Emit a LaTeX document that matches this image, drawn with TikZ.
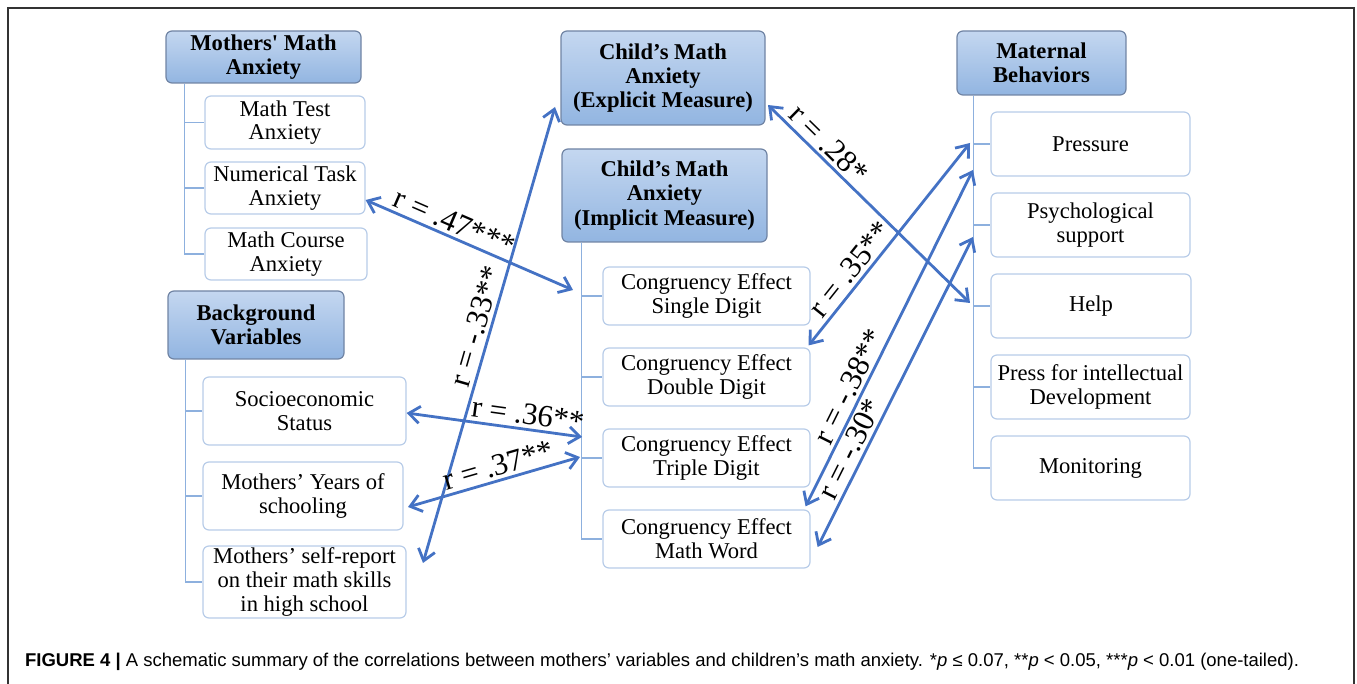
\documentclass[tikz,border=0pt]{standalone}
\usepackage{fontspec}
\setmainfont{Liberation Serif}
\newfontfamily\capfont{Liberation Sans}
\usetikzlibrary{arrows.meta, calc}

\definecolor{corrblue}{RGB}{68,114,196}
\definecolor{treeblue}{RGB}{141,176,222}
\definecolor{boxedge}{RGB}{184,204,232}
\definecolor{hdrtop}{RGB}{196,215,240}
\definecolor{hdrbot}{RGB}{146,181,225}
\definecolor{hdredge}{RGB}{112,132,164}

\tikzset{
	hdr/.style={draw=hdredge, line width=0.6pt, rounded corners=3pt, top color=hdrtop, bottom color=hdrbot,
		align=center, font=\fontsize{11.3}{12.2}\selectfont\bfseries, inner sep=1pt},
	sub/.style={draw=boxedge, line width=0.6pt, rounded corners=3pt, fill=white,
		align=center, font=\fontsize{11.3}{11.8}\selectfont, inner sep=1pt},
	tree/.style={draw=treeblue, line width=0.8pt},
	corr/.style={draw=corrblue, line width=1.4pt,
		{Straight Barb[length=5.5pt,width=8.5pt]}-{Straight Barb[length=5.5pt,width=8.5pt]}},
	lbl/.style={sloped, above, font=\fontsize{15.5}{15.5}\selectfont, inner sep=1.5pt}
}

\begin{document}
\begin{tikzpicture}[x=0.5pt,y=-0.5pt]
	\useasboundingbox (0,0) rectangle (1357,684);
	\draw[line width=1pt, black!80] (8,684) -- (8,8) -- (1354,8) -- (1354,684);

	% mothers' side
	\begin{scope}
		\node[hdr, minimum width=97.5pt, minimum height=26pt] (mma) at (263.5,57) {Mothers\textquotesingle{} Math\\Anxiety};
		\node[sub, minimum width=80pt, minimum height=26.5pt] (mta) at (285,122.5) {Math Test\\Anxiety};
		\node[sub, minimum width=80pt, minimum height=26pt] (nta) at (285,188) {Numerical Task\\Anxiety};
		\node[sub, minimum width=81pt, minimum height=26pt] (mca) at (286,254) {Math Course\\Anxiety};
		\foreach \c in {mta,nta,mca}
			\draw[tree] ($(mma.south west)+(19,0)$) |- (\c.west);

		\node[hdr, minimum width=88pt, minimum height=34pt] (bgv) at (256,325) {Background\\Variables};
		\node[sub, minimum width=101.5pt, minimum height=34pt] (ses) at (304.5,411) {Socioeconomic\\Status};
		\node[sub, minimum width=100pt, minimum height=34pt] (mys) at (303,496) {Mothers’ Years of\\schooling};
		\node[sub, minimum width=101.5pt, minimum height=34pt] (msr) at (304.5,582) {Mothers’ self-report\\on their math skills\\in high school};
		\foreach \c in {ses,mys,msr}
			\draw[tree] ($(bgv.south west)+(18,0)$) |- (\c.west);
	\end{scope}

	% child's side
	\begin{scope}
		\node[hdr, minimum width=102pt, minimum height=47pt] (cex) at (663,78) {Child’s Math\\Anxiety\\(Explicit Measure)};
		\node[hdr, minimum width=102.5pt, minimum height=46.5pt] (cim) at (664.5,195.5) {Child’s Math\\Anxiety\\(Implicit Measure)};
		\node[sub, minimum width=103.5pt, minimum height=29pt] (ced1) at (706.5,296) {Congruency Effect\\Single Digit};
		\node[sub, minimum width=103.5pt, minimum height=29pt] (ced2) at (706.5,377) {Congruency Effect\\Double Digit};
		\node[sub, minimum width=103.5pt, minimum height=29pt] (ced3) at (706.5,458) {Congruency Effect\\Triple Digit};
		\node[sub, minimum width=103.5pt, minimum height=29pt] (ced4) at (706.5,539) {Congruency Effect\\Math Word};
		\foreach \c in {ced1,ced2,ced3,ced4}
			\draw[tree] ($(cim.south west)+(20,0)$) |- (\c.west);
	\end{scope}

	% maternal behaviors
	\begin{scope}
		\node[hdr, minimum width=84.5pt, minimum height=32pt] (mbh) at (1041.5,63) {Maternal\\Behaviors};
		\node[sub, minimum width=99.5pt, minimum height=32pt] (prs) at (1090.5,144) {Pressure};
		\node[sub, minimum width=99.5pt, minimum height=32pt] (psy) at (1090.5,225) {Psychological\\support};
		\node[sub, minimum width=100pt, minimum height=32pt] (hlp) at (1091,306) {Help};
		\node[sub, minimum width=99.5pt, minimum height=32pt] (pid) at (1090.5,387) {Press for intellectual\\Development};
		\node[sub, minimum width=99.5pt, minimum height=32pt] (mon) at (1090.5,468) {Monitoring};
		\foreach \c in {prs,psy,hlp,pid,mon}
			\draw[tree] ($(mbh.south west)+(17,0)$) |- (\c.west);
	\end{scope}

	% free ends of the correlations
	\coordinate (t47) at (573,290);
	\coordinate (b33) at (423,563);
	\coordinate (t33) at (555,107);
	\coordinate (t36) at (582,437);
	\coordinate (b37) at (408,507);
	\coordinate (t37) at (580,457);
	\coordinate (a28) at (768,105);
	\coordinate (t28) at (970,303);
	\coordinate (t35) at (970,143);
	\coordinate (t38) at (973,170);
	\coordinate (t30) at (973,237);

	\draw[corr] ([yshift=-6pt]nta.east) -- node[lbl, pos=.4] {r = .47***} (t47);
	\draw[corr] (b33) -- node[lbl, pos=.51] {r = -.33**} (t33);
	\draw[corr] ([yshift=-1pt]ses.east) -- node[lbl, pos=.68] {r = .36**} (t36);
	\draw[corr] (b37) -- node[lbl, pos=.55] {r = .37**} (t37);
	\draw[corr] (a28) -- node[lbl, pos=.25] {r = .28*} (t28);
	\draw[corr] ([xshift=-1pt,yshift=1pt]ced2.north east) -- node[lbl, pos=.33] {r = .35**} (t35);
	\draw[corr] ([xshift=-2.5pt,yshift=1.5pt]ced4.north east) -- node[lbl, pos=.337] {r = -.38**} (t38);
	\draw[corr] ([xshift=3.5pt,yshift=-4pt]ced4.east) -- node[lbl, pos=.295] {r = -.30*} (t30);

	\node[anchor=base west, font=\capfont\fontsize{9.25}{11}\selectfont] (cap) at (18,667)
		{\textbf{FIGURE 4 |} A schematic summary of the correlations between mothers’ variables and children’s math anxiety. *\textit{p} ≤ 0.07, **\textit{p} < 0.05, ***\textit{p} < 0.01 (one-tailed).};
\end{tikzpicture}
\end{document}
